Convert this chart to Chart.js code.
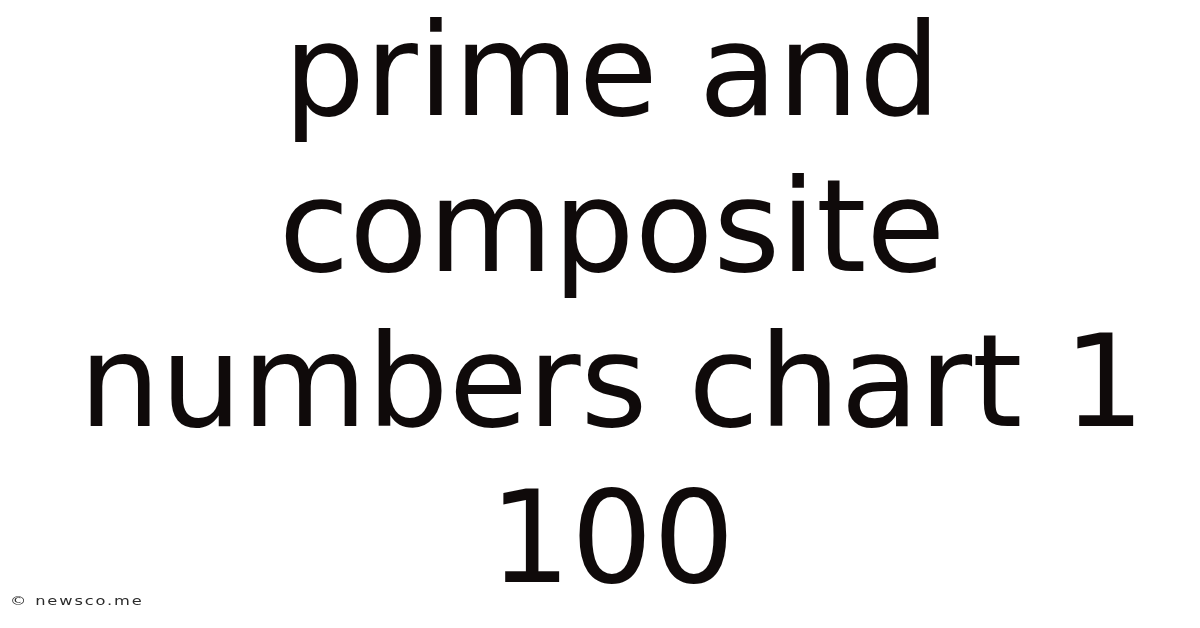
<!DOCTYPE html>
<html>
<head>
<meta charset="utf-8">
<script src="https://cdn.jsdelivr.net/npm/chart.js@4"></script>
<style>
  html, body { margin: 0; padding: 0; background: #ffffff; }
  #wrap { position: relative; width: 1200px; height: 628px; overflow: hidden; }
  #credit {
    position: absolute; left: 10px; top: 593px;
    font-family: "DejaVu Sans", sans-serif; font-size: 13px; color: #2b2b2b;
    letter-spacing: 1.5px; line-height: 15px; white-space: nowrap;
    transform: scaleX(1.25); transform-origin: left top;
  }
</style>
</head>
<body>
<div id="wrap">
  <canvas id="chart" width="1200" height="628"></canvas>
  <div id="credit">© newsco.me</div>
</div>
<script>
// headline lines, as wrapped in the picture
const titleLines = ['prime and', 'composite', 'numbers chart 1', '100'];
// no series are plotted in this image
const labels = [];
const values = [];

const ctx = document.getElementById('chart').getContext('2d');

new Chart(ctx, {
    type: 'bar',
    data: {
        labels: labels,
        datasets: [{
            data: values,
            backgroundColor: '#0f0a0a'
        }]
    },
    options: {
        responsive: false,
        animation: false,
        devicePixelRatio: 1,
        layout: { padding: { left: 24, right: 0, top: 0, bottom: 0 } },
        scales: {
            x: { display: false },
            y: { display: false }
        },
        plugins: {
            legend: { display: false },
            tooltip: { enabled: false },
            title: {
                display: true,
                text: titleLines,
                color: '#0f0a0a',
                padding: { top: 4, bottom: 0 },
                font: {
                    family: '"DejaVu Sans", sans-serif',
                    size: 128.5,
                    weight: 'normal',
                    lineHeight: 155.5 / 128.5
                }
            }
        }
    }
});
</script>
</body>
</html>
